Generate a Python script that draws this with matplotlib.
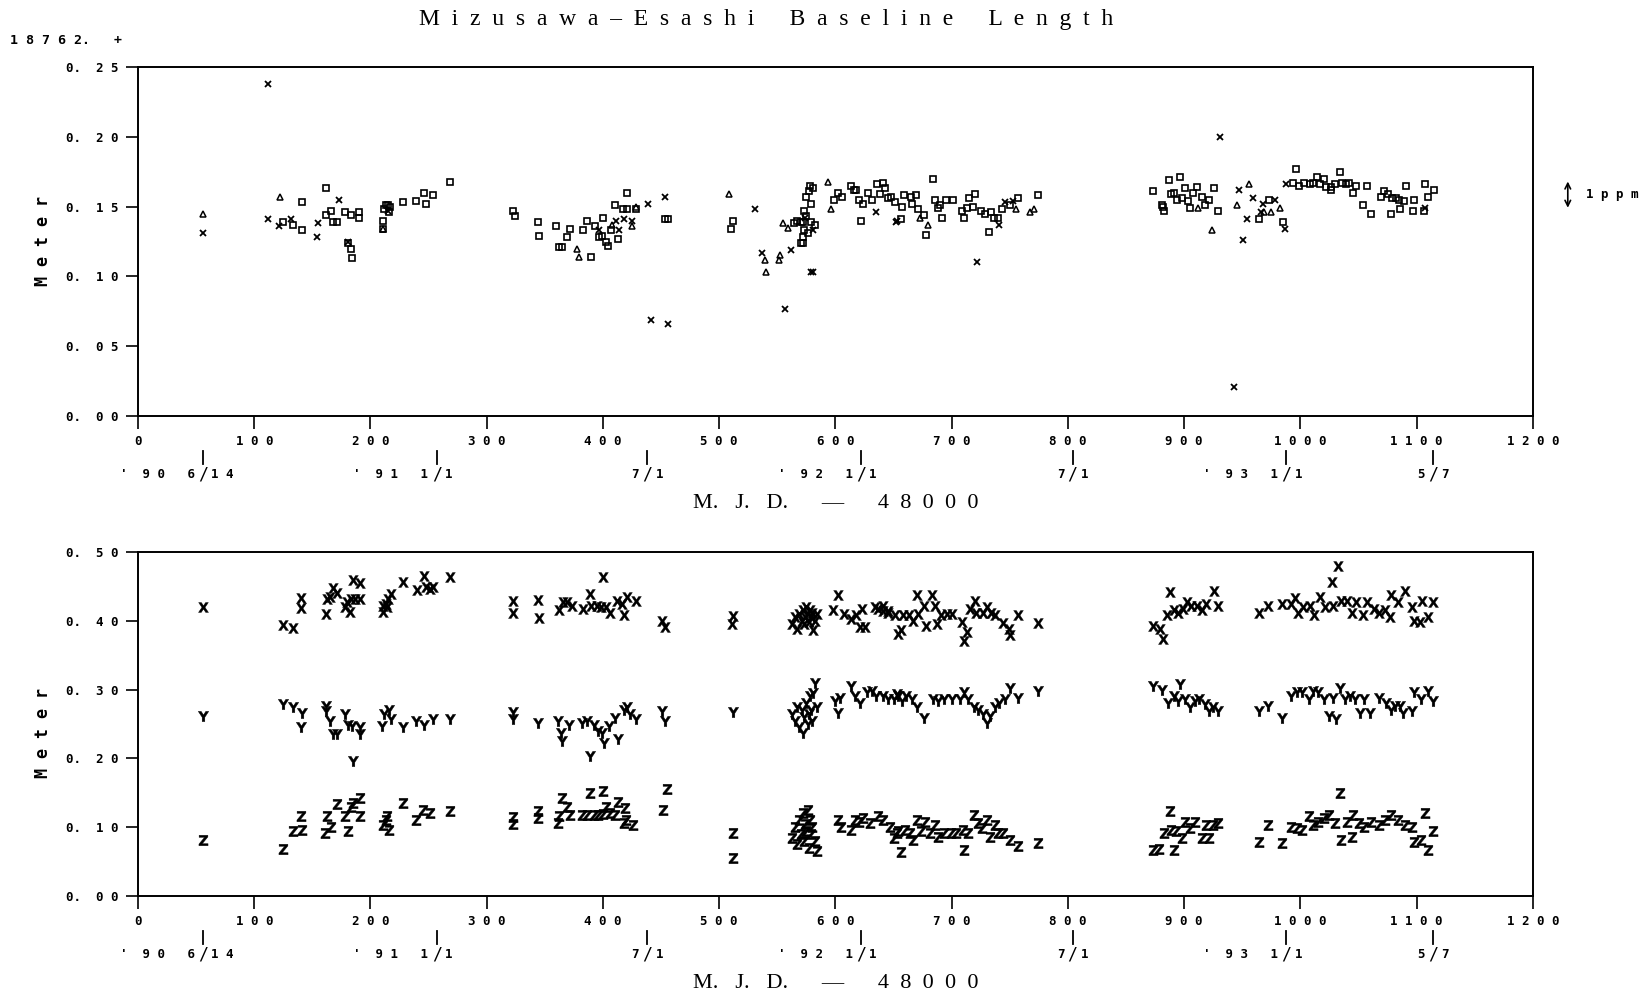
import matplotlib
matplotlib.use('Agg')
import matplotlib.pyplot as plt
from matplotlib.textpath import TextPath
from matplotlib.font_manager import FontProperties
from matplotlib.path import Path

# ---- top panel: baseline length (m, offset 18762.) ----
sq_mjd = [125, 133, 141, 141, 162, 162, 166, 168, 171, 178, 183, 181, 183, 184, 190, 190, 211, 211, 212, 213,
          215, 217, 216, 228, 239, 246, 248, 254, 268,
          323, 324, 344, 345, 360, 362, 365, 369, 372, 383, 386, 390, 393, 397, 399, 400, 403, 404, 407, 410,
          413, 417, 421, 421, 428, 453, 456, 510, 512, 564, 567, 570, 572, 578, 581, 577, 575, 579, 573, 575,
          579, 582, 573, 576, 572, 572, 570, 599, 602, 606, 613, 616, 618, 620, 624, 628, 631, 638, 636, 641,
          643, 645, 651, 622, 648, 657, 659, 665, 666, 669, 671, 676, 678, 684, 686, 688, 690, 692, 695, 701,
          709, 711, 713, 715, 718, 720, 725, 729, 732, 734, 736, 740, 743, 750, 757, 774, 656,
          873, 887, 896, 881, 883, 882, 891, 889, 894, 898, 901, 903, 905, 908, 911, 915, 918, 921, 926, 929,
          973, 964, 985, 994, 996, 999, 1003, 1008, 1011, 1014, 1017, 1020, 1022, 1026, 1026, 1030, 1034, 1036,
          1039, 1042, 1048, 1045, 1057, 1054, 1061, 1069, 1072, 1075, 1079, 1082, 1085, 1089, 1078, 1086, 1091,
          1097, 1098, 1107, 1110, 1115, 1106]
sq_len = [0.139, 0.137, 0.153, 0.133, 0.163, 0.144, 0.147, 0.139, 0.139, 0.146, 0.144, 0.124, 0.120, 0.113,
          0.146, 0.142, 0.140, 0.134, 0.148, 0.151, 0.151, 0.150, 0.146, 0.153, 0.154, 0.160, 0.152, 0.158,
          0.168,
          0.147, 0.143, 0.139, 0.129, 0.136, 0.121, 0.121, 0.128, 0.134, 0.133, 0.140, 0.114, 0.136, 0.128,
          0.129, 0.142, 0.125, 0.122, 0.133, 0.151, 0.127, 0.148, 0.148, 0.160, 0.148, 0.141, 0.141, 0.134,
          0.140, 0.138, 0.140, 0.139, 0.139, 0.165, 0.163, 0.161, 0.157, 0.152, 0.147, 0.143, 0.139, 0.137,
          0.133, 0.131, 0.128, 0.124, 0.124, 0.155, 0.160, 0.157, 0.165, 0.162, 0.162, 0.155, 0.152, 0.160,
          0.155, 0.159, 0.166, 0.167, 0.163, 0.156, 0.153, 0.140, 0.157, 0.150, 0.158, 0.157, 0.152, 0.158,
          0.148, 0.144, 0.130, 0.170, 0.155, 0.149, 0.151, 0.142, 0.155, 0.155, 0.147, 0.142, 0.149, 0.156,
          0.150, 0.159, 0.147, 0.145, 0.132, 0.146, 0.142, 0.142, 0.148, 0.151, 0.156, 0.158, 0.141,
          0.161, 0.169, 0.171, 0.151, 0.147, 0.150, 0.160, 0.159, 0.155, 0.156, 0.163, 0.154, 0.149, 0.160,
          0.164, 0.157, 0.151, 0.155, 0.163, 0.147, 0.155, 0.141, 0.139, 0.167, 0.177, 0.165, 0.167, 0.166,
          0.167, 0.171, 0.166, 0.170, 0.164, 0.164, 0.162, 0.166, 0.175, 0.167, 0.166, 0.167, 0.165, 0.160,
          0.165, 0.151, 0.145, 0.157, 0.161, 0.159, 0.156, 0.156, 0.155, 0.154, 0.145, 0.148, 0.165, 0.147,
          0.155, 0.166, 0.157, 0.162, 0.147]

tri_mjd = [56, 122, 211, 378, 379, 408, 425, 428, 508, 539, 540, 551, 552, 555, 559, 594, 596, 673, 680,
           755, 767, 771, 912, 924, 945, 956, 969, 975, 982]
tri_len = [0.145, 0.157, 0.134, 0.120, 0.114, 0.137, 0.136, 0.150, 0.159, 0.112, 0.103, 0.112, 0.115,
           0.138, 0.135, 0.168, 0.148, 0.142, 0.137, 0.148, 0.146, 0.148, 0.149, 0.133, 0.151, 0.166,
           0.146, 0.146, 0.149]

crs_mjd = [56, 112, 112, 121, 132, 154, 155, 173, 181, 215, 397, 411, 414, 418, 425, 439, 441, 453, 456,
           531, 537, 562, 557, 579, 581, 581, 574, 635, 653, 652, 722, 741, 746, 753, 931, 947, 954, 951,
           943, 959, 966, 968, 978, 987, 988, 1107]
crs_len = [0.131, 0.238, 0.141, 0.136, 0.141, 0.128, 0.138, 0.155, 0.125, 0.147, 0.133, 0.140, 0.133,
           0.141, 0.140, 0.152, 0.069, 0.157, 0.066, 0.148, 0.117, 0.119, 0.077, 0.103, 0.103, 0.133,
           0.142, 0.146, 0.140, 0.139, 0.110, 0.137, 0.153, 0.154, 0.200, 0.162, 0.141, 0.126, 0.021,
           0.156, 0.146, 0.152, 0.155, 0.134, 0.166, 0.149]

# ---- bottom panel: X, Y, Z components (m) ----
x_mjd = [56, 125, 133, 140, 140, 162, 163, 165, 168, 171, 178, 182, 180, 185, 191, 183, 187, 191, 211, 213,
         215, 218, 211, 214, 228, 240, 246, 248, 254, 251, 268,
         323, 323, 344, 345, 362, 366, 369, 373, 383, 389, 390, 395, 398, 400, 403, 406, 412, 416, 418, 421,
         428, 451, 453, 512, 511,
         563, 565, 567, 569, 571, 572, 573, 574, 575, 576, 577, 578, 579, 580, 581, 582, 584,
         602, 598, 607, 613, 618, 623, 621, 625, 634, 637, 641, 645, 654,
         641, 645, 651, 656, 658, 663, 667, 670, 671, 676, 678, 683, 686, 687, 691, 696, 700, 709, 713, 711,
         716, 720, 721, 727, 730, 734, 737, 744, 749, 750, 757, 774,
         873, 879, 882, 885, 888, 891, 895, 899, 902, 906, 911, 915, 919, 926, 929,
         964, 972, 984, 992, 995, 998, 1002, 1008, 1012, 1017, 1021, 1027, 1028, 1032, 1035, 1040, 1044,
         1048, 1054, 1057, 1063, 1068, 1073, 1077, 1078, 1084, 1090, 1096, 1098, 1103, 1110, 1105, 1114]
x_val = [0.420, 0.394, 0.389, 0.433, 0.418, 0.410, 0.431, 0.434, 0.447, 0.441, 0.420, 0.413, 0.427, 0.459,
         0.455, 0.432, 0.432, 0.432, 0.413, 0.425, 0.432, 0.439, 0.422, 0.420, 0.456, 0.445, 0.465, 0.449,
         0.449, 0.446, 0.464,
         0.429, 0.412, 0.430, 0.404, 0.416, 0.428, 0.427, 0.422, 0.417, 0.439, 0.422, 0.422, 0.420, 0.464,
         0.420, 0.411, 0.429, 0.425, 0.409, 0.434, 0.429, 0.400, 0.391, 0.407, 0.395,
         0.395, 0.405, 0.388, 0.410, 0.400, 0.415, 0.395, 0.405, 0.420, 0.410, 0.398, 0.415, 0.405, 0.412,
         0.386, 0.400, 0.410,
         0.438, 0.415, 0.410, 0.403, 0.409, 0.417, 0.391, 0.391, 0.420, 0.417, 0.414, 0.414, 0.381,
         0.422, 0.412, 0.408, 0.386, 0.408, 0.408, 0.399, 0.437, 0.410, 0.422, 0.392, 0.437, 0.421, 0.395,
         0.408, 0.410, 0.410, 0.398, 0.383, 0.371, 0.417, 0.429, 0.412, 0.412, 0.420, 0.412, 0.408, 0.397,
         0.388, 0.379, 0.408, 0.397,
         0.393, 0.388, 0.373, 0.408, 0.442, 0.415, 0.412, 0.417, 0.427, 0.422, 0.422, 0.415, 0.425, 0.444,
         0.422,
         0.412, 0.422, 0.425, 0.425, 0.433, 0.412, 0.420, 0.422, 0.408, 0.434, 0.420, 0.456, 0.422, 0.480,
         0.429, 0.429, 0.412, 0.427, 0.408, 0.427, 0.417, 0.412, 0.415, 0.405, 0.437, 0.427, 0.444, 0.420,
         0.400, 0.398, 0.405, 0.429, 0.427]

y_mjd = [56, 125, 133, 141, 140, 162, 162, 165, 168, 171, 178, 181, 184, 191, 191, 185, 210, 212, 216, 218,
         228, 239, 246, 254, 268,
         323, 323, 344, 361, 365, 364, 371, 382, 386, 389, 392, 396, 399, 401, 405, 410, 413, 418, 421, 428,
         423, 451, 453, 512,
         563, 565, 567, 569, 571, 572, 573, 575, 576, 577, 578, 579, 580, 581, 582, 584,
         600, 604, 602, 613, 617, 621, 627, 631, 635, 641, 645, 653,
         650, 654, 657, 661, 666, 670, 676, 684, 688, 693, 700, 707, 711, 714, 719, 723, 727, 730, 733, 737,
         741, 746, 750, 757, 774,
         873, 881, 896, 886, 891, 895, 901, 905, 909, 913, 918, 921, 925, 929,
         964, 972, 984, 992, 997, 1001, 1007, 1011, 1015, 1020, 1025, 1031, 1028, 1034, 1038, 1043, 1047,
         1051, 1055, 1060, 1068, 1074, 1078, 1081, 1086, 1088, 1096, 1098, 1104, 1110, 1114]
y_val = [0.262, 0.279, 0.274, 0.266, 0.245, 0.276, 0.269, 0.254, 0.235, 0.235, 0.264, 0.249, 0.247, 0.245,
         0.235, 0.196, 0.247, 0.264, 0.271, 0.257, 0.245, 0.254, 0.249, 0.257, 0.257,
         0.267, 0.257, 0.252, 0.254, 0.225, 0.237, 0.249, 0.252, 0.254, 0.203, 0.249, 0.240, 0.237, 0.223,
         0.247, 0.259, 0.228, 0.271, 0.274, 0.257, 0.264, 0.269, 0.254, 0.267,
         0.265, 0.255, 0.275, 0.245, 0.270, 0.237, 0.260, 0.280, 0.250, 0.265, 0.290, 0.270, 0.255, 0.295,
         0.310, 0.275,
         0.283, 0.288, 0.266, 0.305, 0.291, 0.281, 0.296, 0.298, 0.291, 0.291, 0.286, 0.293,
         0.286, 0.291, 0.283, 0.291, 0.286, 0.274, 0.259, 0.286, 0.283, 0.286, 0.286, 0.286, 0.296, 0.286,
         0.274, 0.271, 0.264, 0.252, 0.262, 0.274, 0.281, 0.286, 0.303, 0.288, 0.298,
         0.305, 0.300, 0.308, 0.281, 0.291, 0.283, 0.286, 0.274, 0.283, 0.286, 0.279, 0.269, 0.274, 0.269,
         0.269, 0.276, 0.259, 0.291, 0.296, 0.296, 0.286, 0.298, 0.296, 0.286, 0.262, 0.257, 0.288, 0.303,
         0.286, 0.291, 0.286, 0.266, 0.286, 0.266, 0.288, 0.281, 0.271, 0.276, 0.276, 0.266, 0.269, 0.296,
         0.286, 0.298, 0.283]

z_mjd = [56, 125, 133, 141, 140, 161, 166, 163, 171, 178, 181, 183, 185, 191, 191, 211, 213, 214, 216, 228,
         239, 245, 251, 268,
         323, 323, 344, 344, 365, 369, 361, 362, 372, 389, 400, 382, 386, 392, 396, 400, 403, 406, 410, 413,
         419, 420, 426, 418, 455, 452, 512, 512,
         563, 565, 567, 569, 570, 572, 573, 574, 575, 576, 577, 578, 579, 580, 582, 584,
         602, 605, 613, 617, 620, 624, 630, 637, 641, 647, 653,
         650, 654, 656, 660, 664, 667, 670, 674, 677, 681, 686, 688, 693, 699, 704, 710, 711, 714, 719, 723,
         726, 730, 733, 737, 740, 744, 750, 757, 774,
         873, 878, 891, 888, 883, 889, 893, 898, 901, 905, 909, 915, 921, 919, 925, 929,
         964, 972, 984, 992, 997, 1001, 1007, 1011, 1015, 1020, 1025, 1030, 1034, 1035, 1040, 1044, 1045,
         1050, 1055, 1061, 1068, 1073, 1078, 1084, 1090, 1096, 1098, 1107, 1104, 1110, 1114]
z_val = [0.082, 0.069, 0.094, 0.096, 0.116, 0.091, 0.101, 0.116, 0.133, 0.116, 0.094, 0.130, 0.135, 0.142,
         0.116, 0.103, 0.111, 0.116, 0.096, 0.135, 0.111, 0.125, 0.120, 0.123,
         0.115, 0.105, 0.123, 0.113, 0.142, 0.130, 0.106, 0.116, 0.117, 0.150, 0.152, 0.118, 0.117, 0.117,
         0.118, 0.119, 0.130, 0.120, 0.118, 0.137, 0.128, 0.111, 0.103, 0.106, 0.156, 0.125, 0.091, 0.055,
         0.085, 0.100, 0.075, 0.110, 0.090, 0.120, 0.080, 0.105, 0.095, 0.125, 0.070, 0.110, 0.090, 0.100,
         0.080, 0.065,
         0.111, 0.101, 0.096, 0.111, 0.108, 0.113, 0.106, 0.116, 0.111, 0.101, 0.091,
         0.084, 0.094, 0.064, 0.096, 0.091, 0.082, 0.111, 0.094, 0.108, 0.091, 0.103, 0.086, 0.091, 0.091,
         0.091, 0.096, 0.067, 0.091, 0.118, 0.106, 0.099, 0.111, 0.086, 0.103, 0.091, 0.091, 0.082, 0.072,
         0.077,
         0.067, 0.069, 0.067, 0.123, 0.091, 0.096, 0.094, 0.084, 0.108, 0.099, 0.108, 0.084, 0.084, 0.103,
         0.103, 0.106,
         0.079, 0.103, 0.077, 0.101, 0.099, 0.096, 0.116, 0.103, 0.108, 0.113, 0.118, 0.106, 0.150, 0.082,
         0.108, 0.086, 0.118, 0.106, 0.101, 0.108, 0.103, 0.111, 0.118, 0.111, 0.103, 0.101, 0.079, 0.120,
         0.082, 0.067, 0.094]

# calendar marks under the MJD axis
date_mjd = [56, 257, 438, 622, 804, 988, 1114]
date_left = ["'  9 0   6", "'  9 1   1", "7", "'  9 2   1", "7", "'  9 3   1", "5"]
date_right = ["1 4", "1", "1", "1", "1", "1", "7"]

xticks = [0, 100, 200, 300, 400, 500, 600, 700, 800, 900, 1000, 1100, 1200]
top_yticks = [0.0, 0.05, 0.10, 0.15, 0.20, 0.25]
bot_yticks = [0.0, 0.10, 0.20, 0.30, 0.40, 0.50]

MONO = 'DejaVu Sans Mono'
SERIF = 'Liberation Serif'


def spaced(s, gap=' '):
    return gap.join(s)


def letter_marker(ch):
    p = TextPath((0, 0), ch, size=1, prop=FontProperties(family='DejaVu Sans', weight='bold'))
    ext = p.get_extents()
    v = p.vertices.copy()
    v[:, 0] -= (ext.x0 + ext.x1) / 2
    v[:, 1] -= (ext.y0 + ext.y1) / 2
    return Path(v, p.codes)


fig = plt.figure(figsize=(16.43, 10.02), dpi=100)
ax1 = fig.add_axes([0.0840, 0.5848, 0.8490, 0.3483])
ax2 = fig.add_axes([0.0840, 0.1058, 0.8490, 0.3433])

ax1.plot(sq_mjd, sq_len, 's', ms=4.8, mfc='none', mec='black', mew=1.2)
ax1.plot(tri_mjd, tri_len, '^', ms=4.2, mfc='none', mec='black', mew=1.1)
ax1.plot(crs_mjd, crs_len, 'x', ms=4.2, mec='black', mew=1.3)

for ch, xs, ys in [('X', x_mjd, x_val), ('Y', y_mjd, y_val), ('Z', z_mjd, z_val)]:
    ax2.plot(xs, ys, ls='none', marker=letter_marker(ch), ms=7.5, mfc='black', mec='black', mew=0.3)

for ax, yt, ylim in [(ax1, top_yticks, 0.25), (ax2, bot_yticks, 0.50)]:
    ax.set_xlim(0, 1200)
    ax.set_ylim(0, ylim)
    ax.set_xticks(xticks)
    ax.set_xticklabels([spaced(str(t)) for t in xticks])
    ax.set_yticks(yt)
    ax.set_yticklabels(['0.  ' + spaced('%02d' % round(v * 100)) for v in yt])
    ax.tick_params(direction='out', length=9, width=1.2, top=False, right=False, pad=5)
    for lab in ax.get_xticklabels() + ax.get_yticklabels():
        lab.set_fontfamily(MONO)
        lab.set_fontweight('bold')
        lab.set_fontsize(9)
    for sp in ax.spines.values():
        sp.set_linewidth(1.4)

    h = ax.bbox.height
    for m, lt, rt in zip(date_mjd, date_left, date_right):
        ax.plot([m, m], [-35 / h, -48 / h], color='black', lw=1.3,
                transform=ax.get_xaxis_transform(), clip_on=False)
        ax.annotate(lt, xy=(m, 0), xycoords=('data', 'axes fraction'), xytext=(-6, -42),
                    textcoords='offset points', ha='right', va='center',
                    fontfamily=MONO, fontweight='bold', fontsize=9)
        ax.annotate('/', xy=(m, 0), xycoords=('data', 'axes fraction'), xytext=(0, -42),
                    textcoords='offset points', ha='center', va='center',
                    fontfamily=MONO, fontsize=12)
        ax.annotate(rt, xy=(m, 0), xycoords=('data', 'axes fraction'), xytext=(6, -42),
                    textcoords='offset points', ha='left', va='center',
                    fontfamily=MONO, fontweight='bold', fontsize=9)
    ax.annotate('M.   J.   D.      \u2014      ' + spaced('48000', '  '), xy=(0.5, 0),
                xycoords='axes fraction', xytext=(0, -63), textcoords='offset points',
                ha='center', va='center', fontfamily=SERIF, fontsize=16)

fig.text(0.026, 0.759, 'M e t e r', rotation=90, ha='center', va='center',
         fontfamily=MONO, fontweight='bold', fontsize=12)
fig.text(0.026, 0.268, 'M e t e r', rotation=90, ha='center', va='center',
         fontfamily=MONO, fontweight='bold', fontsize=12)

title = spaced('Mizusawa\u2013Esashi', '  ') + '      ' + spaced('Baseline', '  ') + '      ' + spaced('Length', '  ')
fig.text(0.466, 0.981, title, ha='center', va='center', fontfamily=SERIF, fontsize=17)
fig.text(0.006, 0.960, '1 8 7 6 2.   +', ha='left', va='center',
         fontfamily=MONO, fontweight='bold', fontsize=9.5)

# 1 ppm scale bar (18762 m * 1e-6)
ax1.annotate('', xy=(1.025, 0.1492), xytext=(1.025, 0.1680),
             xycoords=ax1.get_yaxis_transform(), textcoords=ax1.get_yaxis_transform(),
             arrowprops=dict(arrowstyle='<->', lw=1.2, color='black', shrinkA=0, shrinkB=0))
ax1.text(1.038, 0.1586, '1 p p m', transform=ax1.get_yaxis_transform(), ha='left', va='center',
         fontfamily=MONO, fontweight='bold', fontsize=9)

fig.savefig('out.png', dpi=100, facecolor='white')
